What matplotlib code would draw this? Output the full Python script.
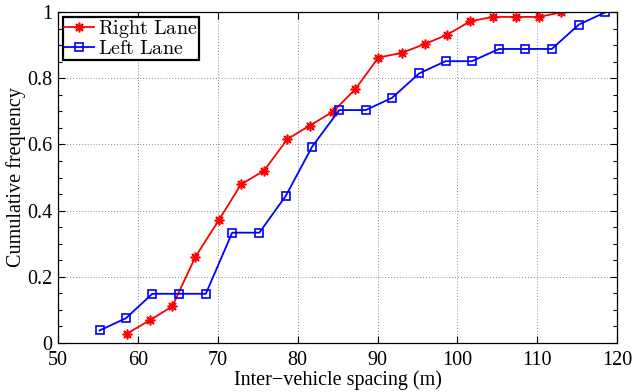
import numpy as np
import matplotlib
matplotlib.use('Agg')
import matplotlib.pyplot as plt
from matplotlib.ticker import MultipleLocator

# Right lane (red asterisks)
right_x = [58.6, 61.5, 64.3, 67.2, 70.1, 72.9, 75.8, 78.7, 81.5, 84.4,
           87.2, 90.1, 93.0, 95.9, 98.7, 101.6, 104.4, 107.3, 110.2, 113.0]
right_y = [0.027, 0.068, 0.110, 0.260, 0.370, 0.479, 0.521, 0.616, 0.657, 0.699,
           0.767, 0.863, 0.877, 0.904, 0.932, 0.973, 0.986, 0.986, 0.986, 1.0]

# Left lane (blue squares)
left_x = [55.2, 58.5, 61.8, 65.2, 68.5, 71.8, 75.2, 78.5, 81.8, 85.2, 88.5,
          91.8, 95.2, 98.5, 101.8, 105.2, 108.5, 111.8, 115.2, 118.5]
left_y = [0.037, 0.074, 0.148, 0.148, 0.148, 0.333, 0.333, 0.444, 0.593, 0.704, 0.704,
          0.741, 0.815, 0.852, 0.852, 0.889, 0.889, 0.889, 0.963, 1.0]

xticks = [50, 60, 70, 80, 90, 100, 110, 120]
yticks = [0, 0.2, 0.4, 0.6, 0.8, 1.0]
ytick_labels = ['0', '0.2', '0.4', '0.6', '0.8', '1']

plt.rcParams['font.family'] = ['Liberation Serif', 'DejaVu Serif']
plt.rcParams['mathtext.fontset'] = 'cm'

fig = plt.figure(figsize=(6.37, 3.92), dpi=100)
ax = fig.add_axes([58 / 637, 1 - 342.7 / 392, 559.3 / 637, 330.4 / 392])

ax.plot(right_x, right_y, color='#ff0000', linewidth=1.3, marker=(8, 2, 0),
        markersize=7, markeredgewidth=1.2, label=r'$\mathrm{Right\ Lane}$')
ax.plot(left_x, left_y, color='#0000ff', linewidth=1.3, marker='s',
        markersize=5.5, markerfacecolor='none', markeredgewidth=1.2,
        label=r'$\mathrm{Left\ Lane}$')

ax.set_xlim(50, 120)
ax.set_ylim(0, 1)
ax.set_xticks(xticks)
ax.set_yticks(yticks)
ax.yaxis.set_minor_locator(MultipleLocator(0.05))
ax.set_yticklabels(ytick_labels)

ax.tick_params(which='both', direction='in', top=True, right=True, labelsize=14.5)
ax.tick_params(axis='x', pad=6)
ax.tick_params(axis='y', pad=4)
ax.tick_params(which='major', length=5, width=0.8)
ax.tick_params(which='minor', length=3, width=0.8)
for s in ax.spines.values():
    s.set_linewidth(0.9)

ax.grid(True, which='major', linestyle=(0, (1, 2.5)), color='0.4', linewidth=0.6)

ax.set_xlabel('Inter\u2212vehicle spacing (m)', fontsize=14.5, labelpad=0)
ax.set_ylabel('Cumulative frequency', fontsize=14.5, labelpad=1)

leg = ax.legend(loc='upper left', fontsize=14.5, fancybox=False, framealpha=1,
                edgecolor='black', borderpad=0.05, labelspacing=0.0,
                handlelength=1.5, handletextpad=0.2, borderaxespad=0.25)
leg.get_frame().set_linewidth(1.6)

fig.savefig('out.png', dpi=100)
